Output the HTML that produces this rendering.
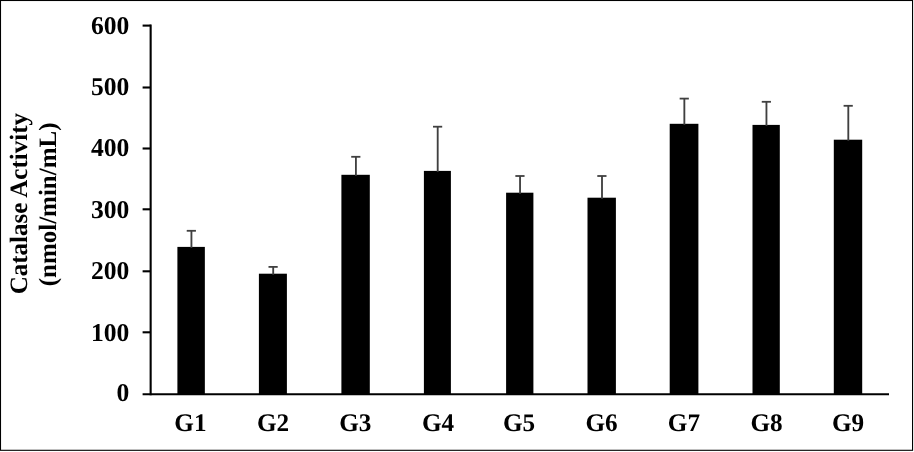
<!DOCTYPE html>
<html><head><meta charset="utf-8"><title>Catalase Activity</title>
<style>
html,body{margin:0;padding:0;background:#fff;}
body{width:914px;height:452px;overflow:hidden;}
svg{display:block;}
text{text-rendering:geometricPrecision;font-family:"Liberation Serif","Times New Roman",serif;font-weight:bold;fill:#000;}
</style></head><body>
<svg width="914" height="452" viewBox="0 0 914 452">
<rect x="0" y="0" width="914" height="452" fill="#fff"/>
<rect x="0.5" y="0.5" width="912.05" height="449.8" fill="none" stroke="#000" stroke-width="1.1"/>

<line x1="150.65" y1="24.6" x2="150.65" y2="395.3" stroke="#000" stroke-width="2.1"/>
<line x1="142.6" y1="394.3" x2="889" y2="394.3" stroke="#000" stroke-width="2.1"/>
<text transform="translate(129.4,401.00) scale(1.065,1.07)" font-size="24" text-anchor="end">0</text>
<line x1="142.6" y1="332.30" x2="150.65" y2="332.30" stroke="#000" stroke-width="2.1"/>
<text transform="translate(129.4,341.00) scale(1.065,1.07)" font-size="24" text-anchor="end">100</text>
<line x1="142.6" y1="271.30" x2="150.65" y2="271.30" stroke="#000" stroke-width="2.1"/>
<text transform="translate(129.4,279.00) scale(1.065,1.07)" font-size="24" text-anchor="end">200</text>
<line x1="142.6" y1="209.30" x2="150.65" y2="209.30" stroke="#000" stroke-width="2.1"/>
<text transform="translate(129.4,218.00) scale(1.065,1.07)" font-size="24" text-anchor="end">300</text>
<line x1="142.6" y1="148.50" x2="150.65" y2="148.50" stroke="#000" stroke-width="2.1"/>
<text transform="translate(129.4,156.00) scale(1.065,1.07)" font-size="24" text-anchor="end">400</text>
<line x1="142.6" y1="87.50" x2="150.65" y2="87.50" stroke="#000" stroke-width="2.1"/>
<text transform="translate(129.4,95.00) scale(1.065,1.07)" font-size="24" text-anchor="end">500</text>
<line x1="142.6" y1="25.60" x2="150.65" y2="25.60" stroke="#000" stroke-width="2.1"/>
<text transform="translate(129.4,34.00) scale(1.065,1.07)" font-size="24" text-anchor="end">600</text>
<rect x="177.40" y="246.90" width="27.45" height="147.40" fill="#000"/>
<line x1="191.43" y1="230.80" x2="191.43" y2="247.90" stroke="#404040" stroke-width="1.85"/>
<line x1="186.72" y1="230.80" x2="195.93" y2="230.80" stroke="#404040" stroke-width="1.8"/>
<text transform="translate(174.30,431) scale(1.05,1.055)" font-size="24" text-anchor="start">G1</text>
<rect x="258.90" y="273.70" width="28.00" height="120.60" fill="#000"/>
<line x1="273.20" y1="266.90" x2="273.20" y2="274.70" stroke="#404040" stroke-width="1.85"/>
<line x1="268.50" y1="266.90" x2="277.70" y2="266.90" stroke="#404040" stroke-width="1.8"/>
<text transform="translate(257.00,431) scale(1.05,1.055)" font-size="24" text-anchor="start">G2</text>
<rect x="341.40" y="174.80" width="28.40" height="219.50" fill="#000"/>
<line x1="355.90" y1="156.80" x2="355.90" y2="175.80" stroke="#404040" stroke-width="1.85"/>
<line x1="351.20" y1="156.80" x2="360.40" y2="156.80" stroke="#404040" stroke-width="1.8"/>
<text transform="translate(339.20,431) scale(1.05,1.055)" font-size="24" text-anchor="start">G3</text>
<rect x="423.90" y="170.90" width="27.00" height="223.40" fill="#000"/>
<line x1="437.70" y1="126.70" x2="437.70" y2="171.90" stroke="#404040" stroke-width="1.85"/>
<line x1="433.00" y1="126.70" x2="442.20" y2="126.70" stroke="#404040" stroke-width="1.8"/>
<text transform="translate(421.90,431) scale(1.05,1.055)" font-size="24" text-anchor="start">G4</text>
<rect x="506.10" y="192.70" width="27.30" height="201.60" fill="#000"/>
<line x1="520.05" y1="176.00" x2="520.05" y2="193.70" stroke="#404040" stroke-width="1.85"/>
<line x1="515.35" y1="176.00" x2="524.55" y2="176.00" stroke="#404040" stroke-width="1.8"/>
<text transform="translate(503.00,431) scale(1.05,1.055)" font-size="24" text-anchor="start">G5</text>
<rect x="587.50" y="197.70" width="28.40" height="196.60" fill="#000"/>
<line x1="602.00" y1="176.00" x2="602.00" y2="198.70" stroke="#404040" stroke-width="1.85"/>
<line x1="597.30" y1="176.00" x2="606.50" y2="176.00" stroke="#404040" stroke-width="1.8"/>
<text transform="translate(585.40,431) scale(1.05,1.055)" font-size="24" text-anchor="start">G6</text>
<rect x="669.70" y="123.80" width="28.70" height="270.50" fill="#000"/>
<line x1="684.35" y1="98.60" x2="684.35" y2="124.80" stroke="#404040" stroke-width="1.85"/>
<line x1="679.65" y1="98.60" x2="688.85" y2="98.60" stroke="#404040" stroke-width="1.8"/>
<text transform="translate(667.80,431) scale(1.05,1.055)" font-size="24" text-anchor="start">G7</text>
<rect x="752.50" y="124.90" width="27.30" height="269.40" fill="#000"/>
<line x1="766.45" y1="101.80" x2="766.45" y2="125.90" stroke="#404040" stroke-width="1.85"/>
<line x1="761.75" y1="101.80" x2="770.95" y2="101.80" stroke="#404040" stroke-width="1.8"/>
<text transform="translate(750.40,431) scale(1.05,1.055)" font-size="24" text-anchor="start">G8</text>
<rect x="833.80" y="139.70" width="28.40" height="254.60" fill="#000"/>
<line x1="848.30" y1="105.80" x2="848.30" y2="140.70" stroke="#404040" stroke-width="1.85"/>
<line x1="843.60" y1="105.80" x2="852.80" y2="105.80" stroke="#404040" stroke-width="1.8"/>
<text transform="translate(832.00,431) scale(1.05,1.055)" font-size="24" text-anchor="start">G9</text>
<text transform="translate(26.6,203.65) rotate(-90)" font-size="25" text-anchor="middle">Catalase Activity</text>
<text transform="translate(56.1,204.4) rotate(-90)" font-size="25" text-anchor="middle">(nmol/min/mL)</text>
</svg></body></html>
